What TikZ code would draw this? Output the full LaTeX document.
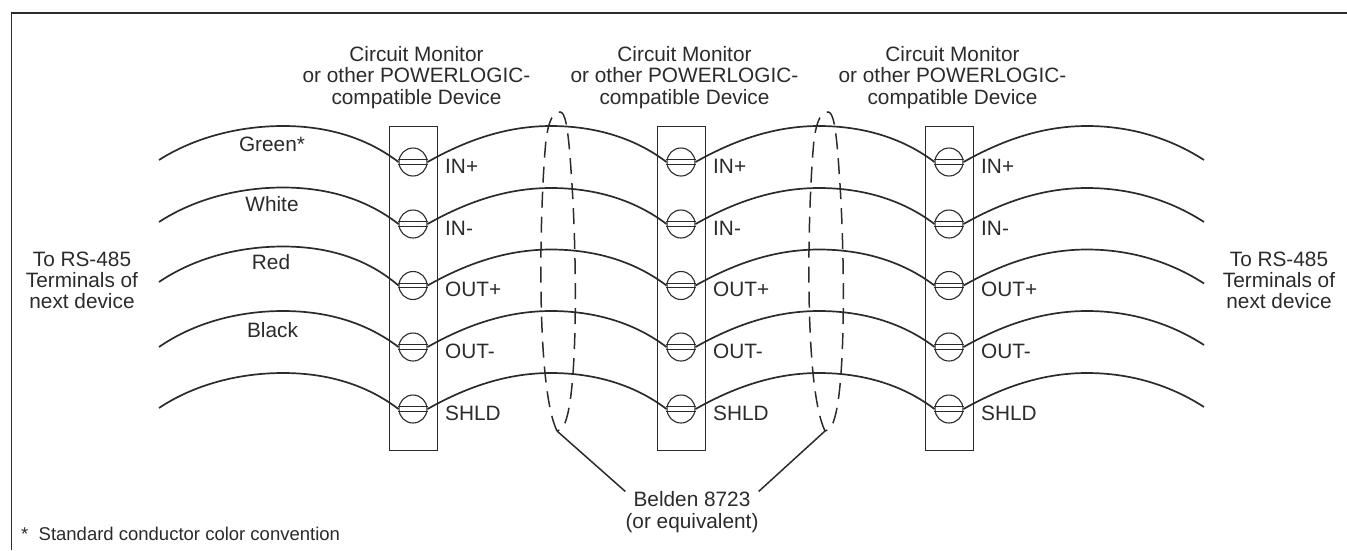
\documentclass[tikz,border=0pt]{standalone}
\usepackage{fontspec}
\setmainfont{Liberation Sans}
\definecolor{ink}{HTML}{2B2B2B}
\tikzset{
  lbl/.style={text=ink,font=\fontsize{20.8}{21.3}\selectfont,inner sep=0pt,align=center},
  wire/.style={draw=ink,line width=1.7pt},
  screw/.style={circle,draw=ink,line width=1.1pt,minimum size=28pt,inner sep=0pt},
  slot/.style={draw=ink,line width=1.1pt},
  tbox/.style={draw=ink,line width=1pt,minimum width=48pt,minimum height=324pt,inner sep=0pt},
  cable/.style={draw=ink,line width=1.5pt,dash pattern=on 16pt off 9pt},
  leader/.style={draw=ink,line width=1.5pt},
  frame/.style={draw=ink,line width=1.5pt}
}
\begin{document}
\begin{tikzpicture}[x=1pt,y=-1pt]
\useasboundingbox (0,0) rectangle (1347,550);
\coordinate (fa) at (11.5,550);
\coordinate (fb) at (11.5,13);
\coordinate (fc) at (1347,13);
\draw[frame] (fa) -- (fb) -- (fc);
% terminal boxes, titles
\foreach \d/\cx in {1/413,2/681,3/949}{
  \node[tbox] (box\d) at (\cx,288) {};
  \node[lbl] (title\d) at (\cx+3.5,77.5) {Circuit Monitor\\or other POWERLOGIC-\\compatible Device};
  \foreach \r/\y/\t in {1/162/IN+,2/224/IN-,3/285.5/OUT+,4/347/OUT-,5/409/SHLD}{
    \node[screw] (s\d\r) at (\cx,\y) {};
    \draw[slot] ([yshift=-2.3pt]s\d\r.west) -- ([yshift=-2.3pt]s\d\r.east);
    \draw[slot] ([yshift=2.3pt]s\d\r.west) -- ([yshift=2.3pt]s\d\r.east);
    \node[lbl,anchor=base west] (t\d\r) at (\cx+32,\y+11) {\t};
  }
}
% wires
\foreach \r/\y/\ly/\pk in {1/162/160/126,2/224/222/187.5,3/285.5/282/246.5,4/347/347/311,5/409/408/373}{
  \coordinate (L\r) at (159,\ly);
  \coordinate (R\r) at (1204,\y-2);
  \draw[wire] (L\r) .. controls (195,\pk+11) and (240,\pk) .. (283,\pk)
     .. controls (328,\pk) and (367,\pk+12) .. (s1\r.west);
  \draw[wire] (s1\r.east) .. controls (470,\y-24) and (510,\y-36) .. (551,\y-36)
     .. controls (595,\y-36) and (635,\y-24) .. (s2\r.west);
  \draw[wire] (s2\r.east) .. controls (738,\y-24) and (778,\y-36) .. (819,\y-36)
     .. controls (863,\y-36) and (903,\y-24) .. (s3\r.west);
  \draw[wire] (s3\r.east) .. controls (1006,\y-24) and (1046,\y-36) .. (1087,\y-36)
     .. controls (1130,\y-36) and (1170,\y-24) .. (R\r);
}
% cable bundles
\coordinate (c1) at (557,431);
\coordinate (c2) at (825,431);
\draw[cable] (c1) .. controls (535,385) and (540,200) .. (546,140)
   .. controls (549,118) and (554,112) .. (560,112)
   .. controls (565,112) and (568,125) .. (571,170)
   .. controls (577,250) and (578,385) .. (566,420)
   .. controls (564,427) and (561,430) .. (c1);
\draw[cable] (c2) .. controls (803,385) and (808,200) .. (814,140)
   .. controls (817,118) and (822,112) .. (828,112)
   .. controls (833,112) and (836,125) .. (839,170)
   .. controls (845,250) and (846,385) .. (834,420)
   .. controls (832,427) and (829,430) .. (c2);
% labels
\node[lbl] (belden) at (692,512) {Belden 8723\\(or equivalent)};
\draw[leader] (c1) -- (belden.north west);
\draw[leader] (c2) -- (belden.north east);
\node[lbl] (leftl) at (82,280.5) {To RS-485\\Terminals of\\next device};
\node[lbl] (rightl) at (1279,280.5) {To RS-485\\Terminals of\\next device};
\node[lbl,anchor=base] (green) at (272,151) {Green*};
\node[lbl,anchor=base] (white) at (272,211) {White};
\node[lbl,anchor=base] (red) at (271,269) {Red};
\node[lbl,anchor=base] (black) at (272.5,337) {Black};
\node[lbl,anchor=base west,font=\fontsize{18.5}{21}\selectfont] (note) at (21,540) {*\ \ Standard conductor color convention};
\end{tikzpicture}
\end{document}
